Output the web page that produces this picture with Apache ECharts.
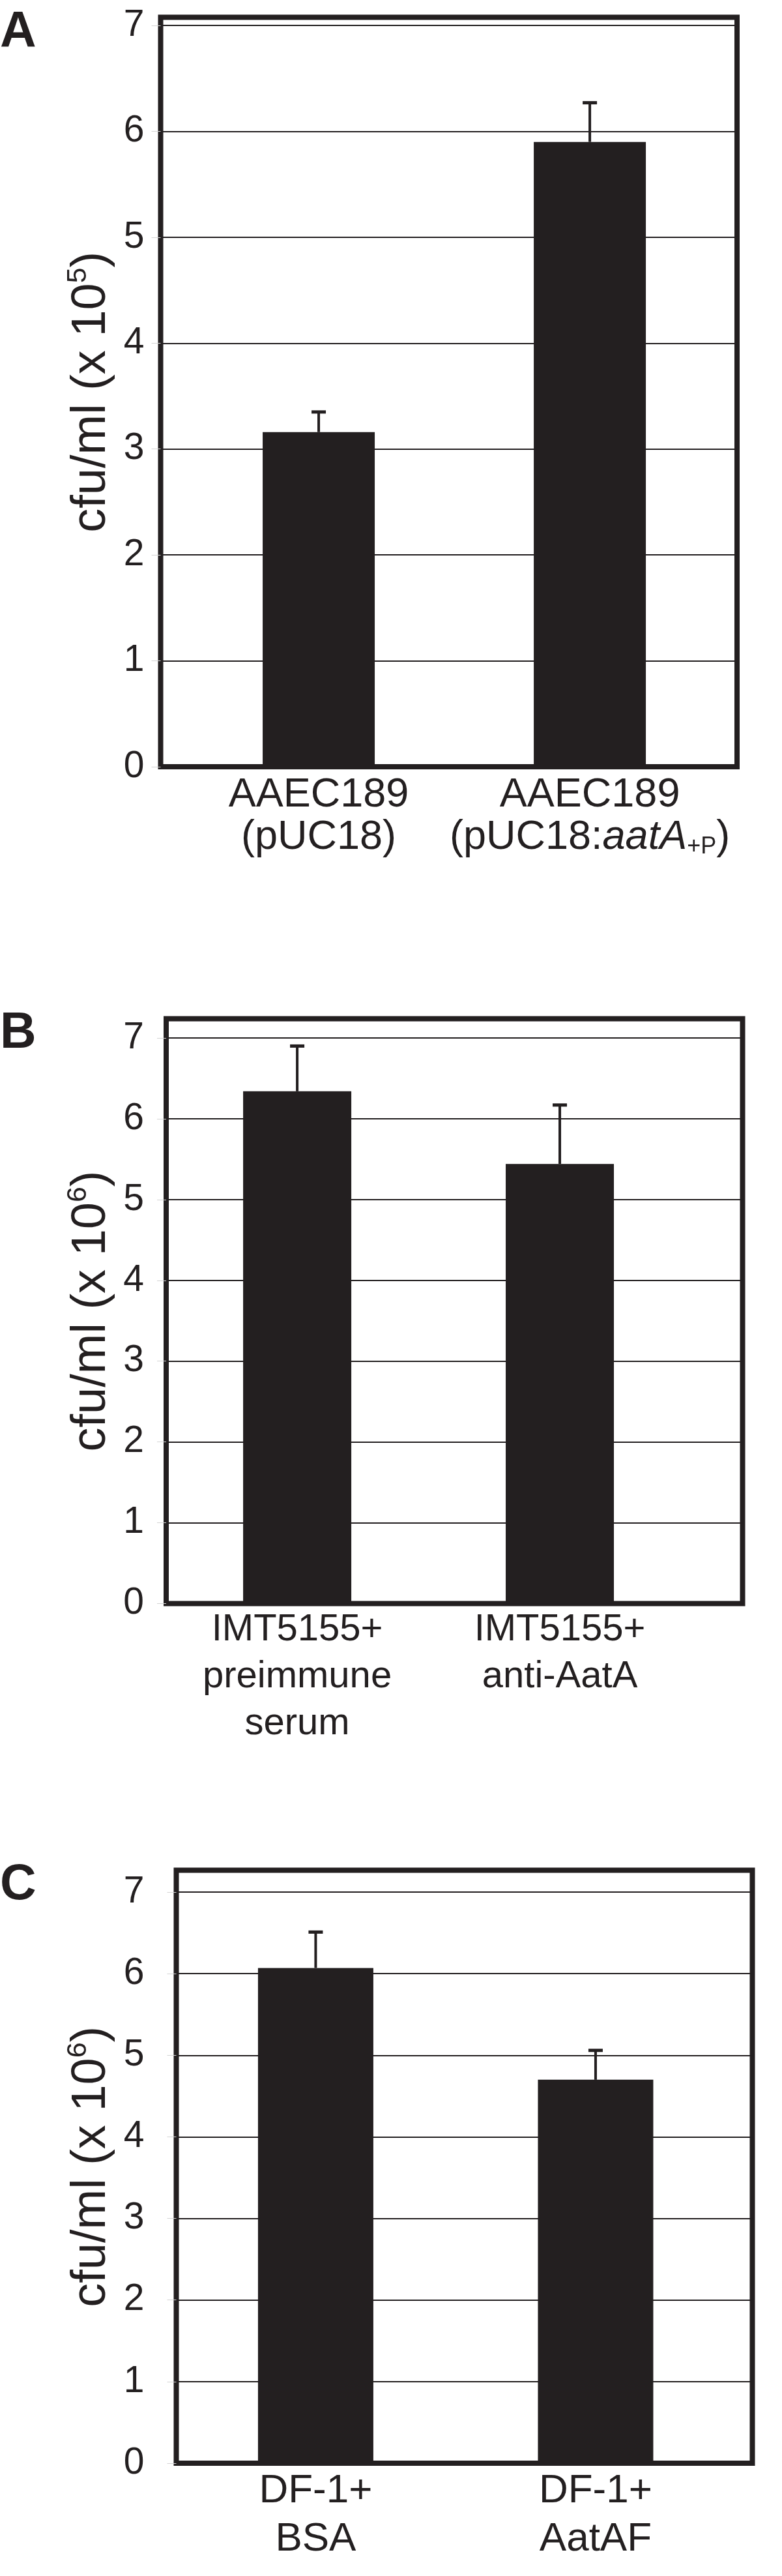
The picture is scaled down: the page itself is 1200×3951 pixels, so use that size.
<!DOCTYPE html>
<html>
<head>
<meta charset="utf-8">
<script src="https://cdn.jsdelivr.net/npm/echarts@6/dist/echarts.min.js"></script>
<style>
html, body { margin: 0; padding: 0; background: #fff; }
#chart { width: 1200px; height: 3951px; }
</style>
</head>
<body>
<div id="chart"></div>
<script>
// bar positions on the x axis and y ticks shared by the three panels
var xPos = [1, 2];
var yTicks = [0, 1, 2, 3, 4, 5, 6, 7];

// A: cfu/ml (x 10^5)
var labelsA = ['{n|AAEC189}\n{n|(pUC18)}', '{n|AAEC189}\n{n|(pUC18:}{i|aatA}{sb|+P}{n|)}'];
var valuesA = [3.16, 5.90];
var errorsA = [0.19, 0.37];

// B: cfu/ml (x 10^6)
var labelsB = ['IMT5155+\npreimmune\nserum', 'IMT5155+\nanti-AatA'];
var valuesB = [6.34, 5.44];
var errorsB = [0.56, 0.73];

// C: cfu/ml (x 10^6)
var labelsC = ['DF-1+\nBSA', 'DF-1+\nAatAF'];
var valuesC = [6.07, 4.70];
var errorsC = [0.44, 0.36];

var ink = '#231f20';
var font = '"Liberation Sans", Arial, Helvetica, sans-serif';

var panels = [
    {letter: 'A', exp: '5', labels: labelsA, values: valuesA, errors: errorsA},
    {letter: 'B', exp: '6', labels: labelsB, values: valuesB, errors: errorsB},
    {letter: 'C', exp: '6', labels: labelsC, values: valuesC, errors: errorsC}
];
// layout of each panel (frame box, axis ranges, text sizes)
var layout = [
    {left: 246.5, top: 26.5, width: 884.5, height: 1149.5, yMax: 7.077, xMin: 0.417, xMax: 2.543,
        barWidth: 172, tickMargin: 25, nameGap: 64, catSize: 63, catLine: 65, catMargin: 11, letterY: 51},
    {left: 255, top: 1562.5, width: 884.5, height: 897, yMax: 7.238, xMin: 0.501, xMax: 2.696,
        barWidth: 166, tickMargin: 34, nameGap: 72, catSize: 58, catLine: 72, catMargin: 4, letterY: 1586},
    {left: 270.5, top: 2868.5, width: 884, height: 909.5, yMax: 7.268, xMin: 0.502, xMax: 2.560,
        barWidth: 177, tickMargin: 49, nameGap: 88, catSize: 62, catLine: 74, catMargin: 6, letterY: 2892}
];

function renderErr (params, api) {
    var b = api.coord([api.value(0), api.value(1)]);
    var t = api.coord([api.value(0), api.value(2)]);
    return {
        type: 'group',
        children: [
            {type: 'line', shape: {x1: b[0], y1: b[1], x2: t[0], y2: t[1]}, style: {stroke: ink, lineWidth: 4}},
            {type: 'rect', shape: {x: t[0] - 11, y: t[1] - 2.5, width: 22, height: 5}, style: {fill: ink}}
        ]
    };
}

var grids = [], xAxes = [], yAxes = [], series = [], graphics = [];
panels.forEach(function (p, i) {
    var l = layout[i];
    grids.push({
        left: l.left, top: l.top, width: l.width, height: l.height,
        show: true, borderColor: ink, borderWidth: 8, backgroundColor: 'transparent'
    });
    xAxes.push({
        type: 'value', gridIndex: i, min: l.xMin, max: l.xMax,
        axisLine: {show: false}, axisTick: {show: false}, splitLine: {show: false},
        axisLabel: {
            customValues: xPos,
            formatter: function (v) { return p.labels[xPos.indexOf(v)]; },
            color: ink, fontFamily: font, fontSize: l.catSize, lineHeight: l.catLine, margin: l.catMargin,
            rich: {
                n: {color: ink, fontFamily: font, fontSize: l.catSize, lineHeight: l.catLine},
                i: {color: ink, fontFamily: font, fontSize: l.catSize, lineHeight: l.catLine, fontStyle: 'italic'},
                sb: {color: ink, fontFamily: font, fontSize: 36, lineHeight: 4, verticalAlign: 'bottom'}
            }
        }
    });
    yAxes.push({
        type: 'value', gridIndex: i, min: 0, max: l.yMax, interval: 1,
        name: '{n|cfu/ml (x 10}{s|' + p.exp + '}{n|)}',
        nameLocation: 'middle', nameRotate: 90, nameGap: l.nameGap,
        nameTextStyle: {
            color: ink, fontFamily: font, fontSize: 74,
            rich: {
                n: {color: ink, fontFamily: font, fontSize: 74, lineHeight: 84},
                s: {color: ink, fontFamily: font, fontSize: 43, lineHeight: 36, verticalAlign: 'top'}
            }
        },
        axisLine: {show: false},
        axisTick: {show: true, customValues: yTicks, length: 14, lineStyle: {color: '#d4d4d4', width: 1}},
        splitLine: {show: true, lineStyle: {color: ink, width: 2}},
        axisLabel: {customValues: yTicks, color: ink, fontFamily: font, fontSize: 57, margin: l.tickMargin}
    });
    series.push({
        type: 'bar', xAxisIndex: i, yAxisIndex: i, barWidth: l.barWidth,
        itemStyle: {color: ink}, silent: true,
        data: xPos.map(function (x, k) { return [x, p.values[k]]; })
    });
    series.push({
        type: 'custom', xAxisIndex: i, yAxisIndex: i, z: 3, silent: true,
        renderItem: renderErr,
        data: xPos.map(function (x, k) { return [x, p.values[k], p.values[k] + p.errors[k]]; })
    });
    graphics.push({
        type: 'text', x: 0, y: l.letterY,
        style: {text: p.letter, fill: ink, fontFamily: font, fontSize: 77, fontWeight: 'bold', verticalAlign: 'middle'}
    });
});

var myChart = echarts.init(document.getElementById('chart'), null, {renderer: 'canvas'});
myChart.setOption({
    animation: false,
    backgroundColor: '#fff',
    grid: grids,
    xAxis: xAxes,
    yAxis: yAxes,
    series: series,
    graphic: graphics
});
</script>
</body>
</html>
